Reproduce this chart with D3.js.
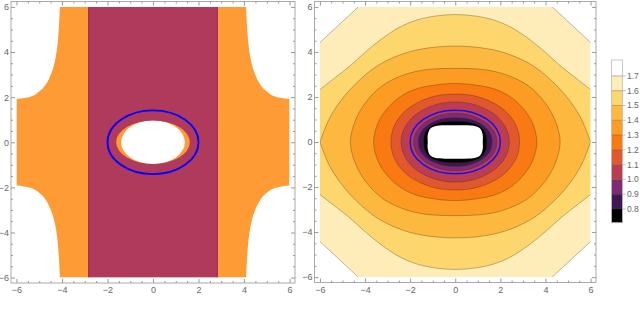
<!DOCTYPE html>
<html>
<head>
<meta charset="utf-8">
<script src="https://cdn.jsdelivr.net/npm/d3@7"></script>
<style>
  body { margin: 0; background: #fff; }
  svg { display: block; font-family: "Liberation Sans", Arial, sans-serif; }
  .tick text { fill: #666; font-size: 9px; }
  .tick line { stroke: #999; }
</style>
</head>
<body>
<div id="chart"></div>
<script>
// contour levels of the right panel, outside in
const levels = [1.7, 1.6, 1.5, 1.4, 1.3, 1.2, 1.1, 1.0, 0.9, 0.8, 0.7];

// quarter outline of each contour (|x|, |y|)
const arc17 = [[6, 4.42], [4.3, 6]];
const arc16 = [[6, 2.33], [5.4, 2.8], [4.7, 3.35], [4.0, 3.98], [3.3, 4.55], [2.5, 5.08], [1.7, 5.42], [0.85, 5.6], [0, 5.66]];
const arc15 = [[6, 0], [5.6, 1.0], [5.1, 1.8], [4.4, 2.6], [3.5, 3.35], [2.5, 3.85], [1.5, 4.13], [0, 4.26]];
const arc14 = [[4.65, 0], [4.45, 0.9], [4.0, 1.72], [3.3, 2.45], [2.6, 2.85], [1.8, 3.12], [1.0, 3.24], [0, 3.27]];
const arc13 = [[3.62, 0], [3.42, 0.85], [3.0, 1.5], [2.45, 2.0], [1.75, 2.35], [0.9, 2.53], [0, 2.6]];
const arc12 = [[2.85, 0], [2.72, 0.68], [2.3, 1.3], [1.72, 1.72], [0.88, 2.04], [0, 2.13]];
const arc11 = [[2.4, 0], [2.28, 0.55], [1.92, 1.07], [1.44, 1.42], [0.72, 1.7], [0, 1.78]];
const arc10 = [[1.85, 0], [1.76, 0.4], [1.48, 0.77], [1.11, 1.02], [0.56, 1.22], [0, 1.28]];
const arc09 = [[1.63, 0], [1.56, 0.36], [1.32, 0.67], [1.0, 0.88], [0.5, 1.04], [0, 1.08]];
const arc08 = [[1.4, 0], [1.36, 0.34], [1.18, 0.62], [0.9, 0.8], [0.45, 0.9], [0, 0.92]];
const arc07 = [[1.22, 0], [1.22, 0.3], [1.12, 0.58], [0.9, 0.7], [0.45, 0.74], [0, 0.74]];
const arcs = [arc17, arc16, arc15, arc14, arc13, arc12, arc11, arc10, arc09, arc08, arc07];

const valueRange = [0.707, 1.808];
const legendTicks = [0.8, 0.9, 1.0, 1.1, 1.2, 1.3, 1.4, 1.5, 1.6, 1.7];

// left panel regions
const orangeArc = [[6, 1.92], [5.6, 1.97], [5.2, 2.1], [4.75, 2.5], [4.45, 3.1], [4.27, 3.8], [4.18, 4.5], [4.13, 5.2], [4.09, 6]];
const orangeHole = [1.4, 0.97];
const bandHalfWidth = 2.83;
const bandHole = [1.62, 0.96];

// the blue ellipse on both panels
const ellipseAxes = [2, 1.414];

const majorTicks = [-6, -4, -2, 0, 2, 4, 6];
const minorTicks = d3.range(-6, 6.01, 0.5).filter(d => d % 2 !== 0);

const sunset = ["#000000", "#3f1752", "#7f2a73", "#bc3d50", "#e1582f", "#f97a12",
                "#fc9c23", "#fdb840", "#fed66e", "#feedb8", "#ffffff"];
const color = d3.scaleThreshold().domain(legendTicks).range(sunset);

const svg = d3.select("#chart").append("svg").attr("width", 640).attr("height", 329);

const xL = d3.scaleLinear().domain([-6.24, 6.24]).range([11, 295]);
const yL = d3.scaleLinear().domain([-6.24, 6.24]).range([283, 1.5]);
const xR = d3.scaleLinear().domain([-6.24, 6.24]).range([314.5, 596]);
const yR = d3.scaleLinear().domain([-6.24, 6.24]).range([282.5, 1.5]);

function clipFor(id, x, y) {
    svg.append("clipPath").attr("id", id).append("rect")
        .attr("x", x(-6)).attr("y", y(6))
        .attr("width", x(6) - x(-6)).attr("height", y(-6) - y(6));
}
clipFor("clipL", xL, yL);
clipFor("clipR", xR, yR);

function ellipseSub(rx, ry, x, y) {
    const cx = x(0), cy = y(0), px = x(rx) - cx, py = cy - y(ry);
    return `M${cx + px},${cy}A${px},${py} 0 1 0 ${cx - px},${cy}A${px},${py} 0 1 0 ${cx + px},${cy}Z`;
}

function mirrorX(q) { return q.slice().reverse().map(([a, b]) => [-a, b]); }
function flip(q) { return q.map(([a, b]) => [-a, -b]); }

function topArc(q) {
    const last = q[q.length - 1];
    return q.concat(mirrorX(last[0] === 0 ? q.slice(0, -1) : q));
}

function drawFrame(x, y) {
    const [x0, x1] = x.range(), [y0, y1] = y.range();
    svg.append("rect").attr("x", x0).attr("y", y1)
        .attr("width", x1 - x0).attr("height", y0 - y1)
        .attr("fill", "none").attr("stroke", "#aaa");

    const sides = [
        [d3.axisBottom, x, `translate(0,${y0})`, true, 4],
        [d3.axisTop, x, `translate(0,${y1})`, false, 4],
        [d3.axisLeft, y, `translate(${x0},0)`, true, 2],
        [d3.axisRight, y, `translate(${x1},0)`, false, 2]
    ];
    sides.forEach(([axis, s, tr, labels, pad]) => {
        svg.append("g").attr("transform", tr)
            .call(axis(s).tickValues(majorTicks).tickSize(-4).tickPadding(pad)
                .tickFormat(labels ? d3.format("d") : ""))
            .call(g => g.select(".domain").remove());
        svg.append("g").attr("transform", tr)
            .call(axis(s).tickValues(minorTicks).tickSize(-2).tickFormat(""))
            .call(g => g.select(".domain").remove());
    });
}

// ---------- left panel ----------
const left = svg.append("g").attr("clip-path", "url(#clipL)");
const lineL = d3.line().x(d => xL(d[0])).y(d => yL(d[1])).curve(d3.curveCatmullRom.alpha(0.5));

const orangePieces = [orangeArc, mirrorX(orangeArc), flip(orangeArc), flip(mirrorX(orangeArc))];
const orangePath = orangePieces.map((p, i) => i ? lineL(p).replace("M", "L") : lineL(p)).join("") + "Z"
    + ellipseSub(orangeHole[0], orangeHole[1], xL, yL);

left.append("path")
    .attr("d", orangePath)
    .attr("fill", "#ff9b34")
    .attr("fill-rule", "evenodd");

const bandPath = `M${xL(-bandHalfWidth)},${yL(6)}H${xL(bandHalfWidth)}V${yL(-6)}H${xL(-bandHalfWidth)}Z`
    + ellipseSub(bandHole[0], bandHole[1], xL, yL);

left.append("path")
    .attr("d", bandPath)
    .attr("fill", "#b03a5c")
    .attr("fill-rule", "evenodd");

left.selectAll(".band-edge")
    .data([-bandHalfWidth, bandHalfWidth])
    .enter().append("line")
    .attr("class", "band-edge")
    .attr("x1", d => xL(d)).attr("x2", d => xL(d))
    .attr("y1", yL(6)).attr("y2", yL(-6))
    .attr("stroke", "#9a2c55")
    .attr("stroke-width", 1);

left.append("ellipse")
    .attr("cx", xL(0)).attr("cy", yL(0))
    .attr("rx", xL(ellipseAxes[0]) - xL(0)).attr("ry", yL(0) - yL(ellipseAxes[1]))
    .attr("fill", "none")
    .attr("stroke", "#0000ff")
    .attr("stroke-width", 1.8);

drawFrame(xL, yL);

// ---------- right panel ----------
const right = svg.append("g").attr("clip-path", "url(#clipR)");
const lineR = d3.line().x(d => xR(d[0])).y(d => yR(d[1]));
const smooth = d3.curveCatmullRom.alpha(0.5);
const smoothClosed = d3.curveCatmullRomClosed.alpha(0.5);

function contourFill(q) {
    const top = topArc(q), bottom = flip(top);
    if (q[0][0] < 6) {
        return lineR.curve(smoothClosed)(top.concat(bottom.slice(1, -1)));
    }
    lineR.curve(q.length > 2 ? smooth : d3.curveLinear);
    return lineR(top) + lineR(bottom).replace("M", "L") + "Z";
}

function contourStroke(q) {
    const top = topArc(q), bottom = flip(top);
    if (q[0][0] < 6) {
        return lineR.curve(smoothClosed)(top.concat(bottom.slice(1, -1)));
    }
    if (q[q.length - 1][0] !== 0) {
        lineR.curve(q.length > 2 ? smooth : d3.curveLinear);
        return [q, mirrorX(q), flip(q), flip(mirrorX(q))].map(p => lineR(p)).join("");
    }
    lineR.curve(smooth);
    return lineR(top) + lineR(bottom);
}

const minLevel = d3.min(levels);
levels.forEach((lv, i) => {
    right.append("path")
        .attr("d", contourFill(arcs[i]))
        .attr("fill", lv === minLevel ? "#fff" : color(lv - 0.05));
});

levels.forEach((lv, i) => {
    if (lv === minLevel) return;
    right.append("path")
        .attr("d", contourStroke(arcs[i]))
        .attr("fill", "none")
        .attr("stroke", "rgba(60,40,20,0.4)")
        .attr("stroke-width", 0.8);
});

right.append("ellipse")
    .attr("cx", xR(0)).attr("cy", yR(0))
    .attr("rx", xR(ellipseAxes[0]) - xR(0)).attr("ry", yR(0) - yR(ellipseAxes[1]))
    .attr("fill", "none")
    .attr("stroke", "#1010ff")
    .attr("stroke-width", 1.5);

drawFrame(xR, yR);

// ---------- legend ----------
const ly = d3.scaleLinear().domain(valueRange).range([222.7, 60]);
const legendX = 611.5, legendW = 11;
const bounds = [valueRange[0]].concat(legendTicks, [valueRange[1]]);

const legend = svg.append("g");
legend.selectAll("rect.band")
    .data(d3.pairs(bounds))
    .enter().append("rect")
    .attr("class", "band")
    .attr("x", legendX)
    .attr("width", legendW)
    .attr("y", d => ly(d[1]))
    .attr("height", d => ly(d[0]) - ly(d[1]))
    .attr("fill", d => color((d[0] + d[1]) / 2));

legend.selectAll("line.level")
    .data(legendTicks)
    .enter().append("line")
    .attr("class", "level")
    .attr("x1", legendX).attr("x2", legendX + legendW + 3)
    .attr("y1", d => ly(d)).attr("y2", d => ly(d))
    .attr("stroke", "rgba(60,40,20,0.4)")
    .attr("stroke-width", 0.8);

legend.append("rect")
    .attr("x", legendX).attr("y", ly(valueRange[1]))
    .attr("width", legendW).attr("height", ly(valueRange[0]) - ly(valueRange[1]))
    .attr("fill", "none")
    .attr("stroke", "#bbb")
    .attr("stroke-width", 0.8);

legend.selectAll("text")
    .data(legendTicks)
    .enter().append("text")
    .attr("x", legendX + legendW + 4.5)
    .attr("y", d => ly(d))
    .attr("dy", "0.35em")
    .attr("font-size", 8.5)
    .attr("fill", "#666")
    .text(d => d.toFixed(1));
</script>
</body>
</html>
